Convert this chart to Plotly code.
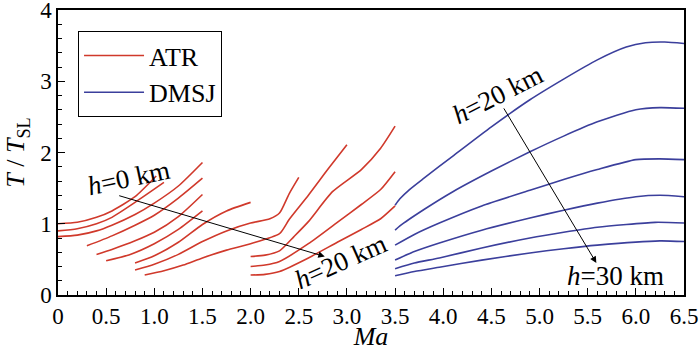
import plotly.graph_objects as go

# ---------------- data ----------------
# ATR curves (Mach number, T/T_SL), h = 0 ... 20 km
ATR_MA = [
    [0.0, 0.2, 0.4, 0.56, 0.8, 1.02],
    [0.0, 0.2, 0.4, 0.56, 0.8, 1.1],
    [0.0, 0.2, 0.4, 0.56, 0.8, 1.0, 1.25, 1.5],
    [0.3, 0.56, 0.8, 1.0, 1.25, 1.5],
    [0.4, 0.56, 0.8, 1.0, 1.25, 1.5],
    [0.5, 0.75, 1.0, 1.25, 1.5],
    [0.8, 1.0, 1.25, 1.5, 1.75, 2.0],
    [0.8, 1.0, 1.25, 1.5, 1.75, 2.0, 2.2, 2.3, 2.4, 2.5],
    [0.9, 1.1, 1.3, 1.5, 1.75, 2.0, 2.3, 2.4, 2.6, 2.8, 3.0],
    [2.0, 2.15, 2.3, 2.45, 2.6, 2.85, 3.15, 3.35, 3.5],
    [2.0, 2.15, 2.3, 2.6, 2.9, 3.15, 3.35, 3.5],
    [2.0, 2.15, 2.3, 2.6, 2.9, 3.15, 3.35, 3.5],
]
ATR_T = [
    [1.00, 1.02, 1.09, 1.18, 1.38, 1.67],
    [0.90, 0.93, 1.00, 1.09, 1.30, 1.58],
    [0.82, 0.84, 0.90, 0.98, 1.13, 1.29, 1.53, 1.86],
    [0.69, 0.83, 0.98, 1.12, 1.36, 1.64],
    [0.57, 0.64, 0.76, 0.88, 1.10, 1.41],
    [0.48, 0.57, 0.72, 0.92, 1.18],
    [0.45, 0.55, 0.74, 0.99, 1.18, 1.30],
    [0.35, 0.43, 0.57, 0.75, 0.90, 1.01, 1.07, 1.15, 1.42, 1.65],
    [0.28, 0.34, 0.42, 0.52, 0.63, 0.72, 0.86, 1.06, 1.40, 1.76, 2.11],
    [0.54, 0.56, 0.62, 0.82, 1.03, 1.45, 1.76, 2.06, 2.37],
    [0.40, 0.42, 0.47, 0.72, 1.02, 1.27, 1.48, 1.73],
    [0.28, 0.29, 0.33, 0.52, 0.74, 0.92, 1.07, 1.25],
]

# DMSJ curves, h = 20 ... 30 km
DMSJ_MA = [
    [3.5, 3.55, 3.65, 3.8, 4.1, 4.5, 4.9, 5.25, 5.6, 5.9, 6.1, 6.3, 6.5],
    [3.5, 3.55, 3.8, 4.1, 4.5, 4.9, 5.25, 5.6, 6.0, 6.25, 6.5],
    [3.5, 3.7, 3.96, 4.4, 4.9, 5.25, 5.6, 6.0, 6.25, 6.5],
    [3.5, 3.7, 3.96, 4.4, 4.9, 5.25, 5.6, 6.0, 6.25, 6.5],
    [3.5, 3.7, 3.96, 4.4, 4.9, 5.25, 5.6, 6.2, 6.5],
    [3.5, 3.7, 3.96, 4.4, 4.9, 5.25, 5.6, 6.25, 6.5],
]
DMSJ_T = [
    [1.26, 1.35, 1.48, 1.64, 1.95, 2.36, 2.74, 3.03, 3.30, 3.48, 3.54, 3.55, 3.53],
    [0.91, 0.97, 1.20, 1.45, 1.74, 2.01, 2.23, 2.43, 2.60, 2.63, 2.62],
    [0.70, 0.85, 1.01, 1.25, 1.47, 1.62, 1.76, 1.90, 1.91, 1.90],
    [0.49, 0.61, 0.73, 0.91, 1.08, 1.19, 1.29, 1.38, 1.40, 1.38],
    [0.37, 0.45, 0.52, 0.66, 0.80, 0.88, 0.95, 1.02, 1.01],
    [0.27, 0.33, 0.39, 0.49, 0.59, 0.65, 0.70, 0.76, 0.75],
]

X_TICKS = [0, 0.5, 1.0, 1.5, 2.0, 2.5, 3.0, 3.5, 4.0, 4.5, 5.0, 5.5, 6.0, 6.5]
X_TICK_TEXT = ["0", "0.5", "1.0", "1.5", "2.0", "2.5", "3.0", "3.5",
               "4.0", "4.5", "5.0", "5.5", "6.0", "6.5"]
Y_TICKS = [0, 1, 2, 3, 4]

RED = "#D0392B"
BLUE = "#3B3F9C"
FONT = "Liberation Serif"


def join(curves):
    out = []
    for c in curves:
        out.extend(c)
        out.append(None)
    return out


fig = go.Figure()
fig.add_trace(go.Scatter(
    x=join(ATR_MA), y=join(ATR_T), mode="lines", name="ATR",
    line=dict(color=RED, width=1.6, shape="spline", smoothing=0.6),
    connectgaps=False))
fig.add_trace(go.Scatter(
    x=join(DMSJ_MA), y=join(DMSJ_T), mode="lines", name="DMSJ",
    line=dict(color=BLUE, width=1.6, shape="spline", smoothing=0.6),
    connectgaps=False))

ann_font = dict(family=FONT, size=27, color="black")
annotations = [
    dict(x=0.73, y=1.64, text="<i>h</i>=0 km", textangle=-12),
    dict(x=2.93, y=0.47, text="<i>h</i>=20 km", textangle=-24),
    dict(x=4.56, y=2.81, text="<i>h</i>=20 km", textangle=-27),
    dict(x=5.79, y=0.26, text="<i>h</i>=30 km", textangle=0),
]
for a in annotations:
    fig.add_annotation(xref="x", yref="y", showarrow=False, font=ann_font, **a)

# arrows
for (tx, ty, hx, hy) in [(0.62, 1.40, 2.77, 0.54), (4.62, 2.64, 5.59, 0.45)]:
    fig.add_annotation(x=hx, y=hy, ax=tx, ay=ty, xref="x", yref="y",
                       axref="x", ayref="y", text="", showarrow=True,
                       arrowhead=2, arrowsize=1.3, arrowwidth=1,
                       arrowcolor="black", standoff=0)

fig.update_layout(
    width=700, height=351,
    margin=dict(l=58, r=16, t=10, b=56, autoexpand=False),
    paper_bgcolor="white", plot_bgcolor="white",
    font=dict(family=FONT, size=23, color="black"),
    showlegend=True,
    legend=dict(x=0.032, y=0.926, xanchor="left", yanchor="top",
                bordercolor="black", borderwidth=1, bgcolor="white",
                font=dict(family=FONT, size=26), itemwidth=60,
                tracegroupgap=0),
    xaxis=dict(range=[0, 6.5], tickvals=X_TICKS, ticktext=X_TICK_TEXT,
               ticks="inside", ticklen=7, tickwidth=1, tickcolor="black",
               showline=True, linecolor="black", linewidth=1.5, mirror=True,
               showgrid=False, zeroline=False, automargin=False,
               ticklabeloverflow="allow",
               minor=dict(ticks="inside", ticklen=4, dtick=0.1, tick0=0,
                          tickcolor="black", showgrid=False),
               title=dict(text="<i>Ma</i>", font=dict(size=26), standoff=2),
               tickfont=dict(size=23)),
    yaxis=dict(range=[0, 4], tickvals=Y_TICKS,
               ticks="inside", ticklen=7, tickwidth=1, tickcolor="black",
               showline=True, linecolor="black", linewidth=1.5, mirror=True,
               showgrid=False, zeroline=False, automargin=False,
               ticklabeloverflow="allow",
               minor=dict(ticks="inside", ticklen=4, dtick=0.2, tick0=0,
                          tickcolor="black", showgrid=False),
               title=dict(text="<i>T</i> / <i>T</i><sub>SL</sub>",
                          font=dict(size=26), standoff=8),
               tickfont=dict(size=23)),
)

# remove the default 8 px page margin so the 700x351 figure fills the window
fig.write_html("out.html",
               config={"displayModeBar": False},
               post_script="document.body.style.margin='0';")
